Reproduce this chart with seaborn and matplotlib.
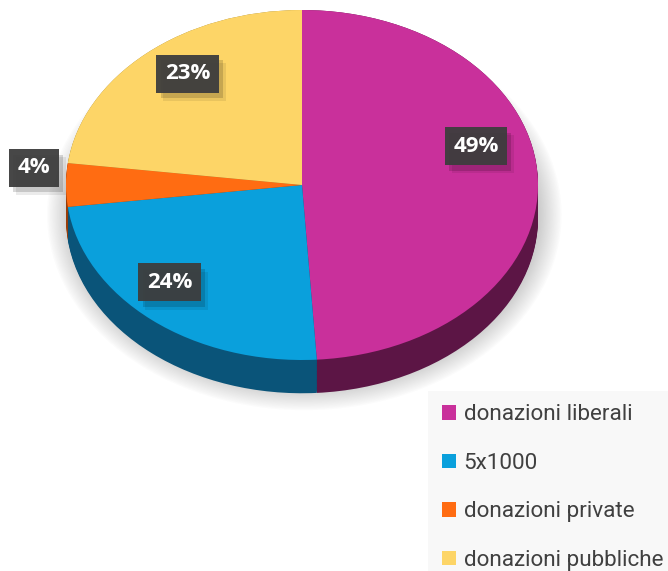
import numpy as np
import matplotlib
matplotlib.use("Agg")
import matplotlib.pyplot as plt
from matplotlib import patheffects as pe
from matplotlib.patches import Ellipse
import seaborn as sns

# Fund sources and their shares (%)
categories = ["donazioni liberali", "5x1000", "donazioni private", "donazioni pubbliche"]
shares = [49, 24, 4, 23]

# face and rim colours of each slice
top_colors = sns.color_palette(["#C9309B", "#0AA0DC", "#FF6C12", "#FDD567"])
side_colors = sns.color_palette(["#5C1545", "#0A5479", "#9A3D08", "#9A7F30"])

sns.set_theme(style="white")
plt.rcParams["font.family"] = ["Roboto", "DejaVu Sans"]

fig = plt.figure(figsize=(6.68, 5.71), dpi=100)
ax = fig.add_axes([0, 0, 1, 1])

# soft drop shadow under the disc
for i in range(16):
    grow = 0.006 * i
    ax.add_patch(Ellipse((0.01, -0.17), width=2 * (1.0 + grow), height=2 * (1.0 + grow * 1.3),
                         facecolor="#7A7A7A", edgecolor="none", alpha=0.025, zorder=0))

# rim: stacked copies of the pie shifted downward
depth = 0.19
for k in np.linspace(depth, 0.0, 30):
    ax.pie(shares, colors=side_colors, startangle=90, counterclock=False, radius=1,
           center=(0, -k), wedgeprops=dict(linewidth=0), frame=True)

# top face
wedges, _ = ax.pie(shares, colors=top_colors, startangle=90, counterclock=False, radius=1,
                   center=(0, 0), wedgeprops=dict(linewidth=0), frame=True)

# percentage tags
label_radius = [0.77, 0.79, 1.14, 0.80]
label_turn = [15, -5.7, -4.9, -4.1]
for w, v, r, turn in zip(wedges, shares, label_radius, label_turn):
    mid = np.deg2rad((w.theta1 + w.theta2) / 2 + turn)
    t = ax.text(r * np.cos(mid), r * np.sin(mid), f"{v}%", ha="center", va="center",
                color="white", fontsize=16, fontweight="bold", family=["Open Sans", "DejaVu Sans"],
                bbox=dict(boxstyle="square,pad=0.38", facecolor="#3D3D3D", edgecolor="none", alpha=0.95),
                zorder=10)
    t.get_bbox_patch().set_path_effects([
        pe.SimplePatchShadow(offset=(3, -4), shadow_rgbFace="black", alpha=0.15),
        pe.SimplePatchShadow(offset=(5, -6), shadow_rgbFace="black", alpha=0.08),
        pe.Normal()])

ax.set_aspect("auto")
ax.set_xlim(-302 / 236, 366 / 236)
ax.set_ylim(-386 / 175, 185 / 175)
ax.axis("off")

leg = ax.legend(wedges, categories, loc="upper left",
                bbox_to_anchor=(428 / 668, 1 - 391 / 571), bbox_transform=fig.transFigure,
                frameon=True, fancybox=False, fontsize=16.2, labelcolor="#404040",
                handlelength=0.63, handleheight=0.63, handletextpad=0.35,
                labelspacing=1.22, borderpad=0.6, borderaxespad=0)
leg.get_frame().set_facecolor("#F7F7F7")
leg.get_frame().set_edgecolor("none")

fig.savefig("out.png", dpi=100, facecolor="white")
